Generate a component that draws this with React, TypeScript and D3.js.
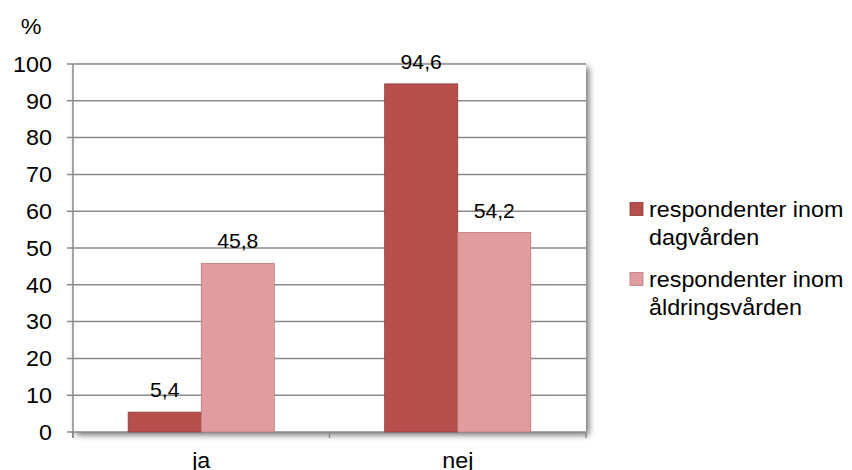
import React from "react";
import * as d3 from "d3";

const categories = ["ja", "nej"];
const seriesNames = ["respondenter inom dagvården", "respondenter inom åldringsvården"];
const legendLines = [["respondenter inom", "dagvården"], ["respondenter inom", "åldringsvården"]];
const dagvarden = [5.4, 94.6];
const aldringsvarden = [45.8, 54.2];
const yTicks = [0, 10, 20, 30, 40, 50, 60, 70, 80, 90, 100];

const colors = ["#B7504D", "#E09C9E"];
const strokes = ["#8E3B39", "#B97A7C"];

const W = 852, H = 470;
const left = 73, right = 586, top = 64, bottom = 432;
const font = "'Liberation Sans', Arial, sans-serif";

// Text drawn slightly wider than the font's natural proportions
function T({ x, y, size, anchor = "start", children }: { x: number; y: number; size: number; anchor?: string; children: React.ReactNode }) {
  return (
    <text transform={`translate(${x},${y}) scale(1.06,1)`} dy="0.35em" textAnchor={anchor} fontSize={size} fill="#000">
      {children}
    </text>
  );
}

export default function App() {
  const x = d3.scaleBand<string>().domain(categories).range([left, right]);
  const y = d3.scaleLinear().domain([0, 100]).range([bottom, top]);
  const bw = x.bandwidth() / (2 + 1.51);
  const series = [dagvarden, aldringsvarden];
  const fmt = (v: number) => v.toFixed(1).replace(".", ",");

  return (
    <svg width={W} height={H} style={{ position: "absolute", left: 0, top: 0, fontFamily: font }}>
      <defs>
        <filter id="shadow" x="-5%" y="-5%" width="115%" height="115%">
          <feGaussianBlur in="SourceAlpha" stdDeviation="3" />
          <feOffset dx="3" dy="3" result="b" />
          <feComponentTransfer><feFuncA type="linear" slope="0.55" /></feComponentTransfer>
        </filter>
      </defs>
      <rect x={left} y={top} width={right - left} height={bottom - top} fill="#000" filter="url(#shadow)" />
      <rect x={left} y={top} width={right - left} height={bottom - top} fill="#fff" />
      {yTicks.map((t) => (
        <g key={t}>
          <line x1={left - 6} x2={right} y1={y(t)} y2={y(t)} stroke="#8A8A8A" strokeWidth={1.5} />
          <T x={52} y={y(t)} size={22} anchor="end">{t}</T>
        </g>
      ))}
      <line x1={left} x2={left} y1={top} y2={bottom + 6} stroke="#8A8A8A" strokeWidth={1.5} />
      {[left, left + x.step(), right].map((px, i) => (
        <line key={i} x1={px} x2={px} y1={bottom} y2={bottom + 6} stroke="#8A8A8A" strokeWidth={1.5} />
      ))}
      <T x={31} y={26} size={22} anchor="middle">%</T>
      {categories.map((c, ci) => {
        const cx = (x(c) as number) + x.bandwidth() / 2;
        return (
          <g key={c}>
            {series.map((s, si) => {
              const bx = cx - bw + si * bw;
              return (
                <g key={si}>
                  <rect x={bx} y={y(s[ci])} width={bw} height={bottom - y(s[ci])} fill={colors[si]} stroke={strokes[si]} strokeWidth={0.8} />
                  <T x={bx + bw / 2} y={y(s[ci]) - 22} size={20} anchor="middle">{fmt(s[ci])}</T>
                </g>
              );
            })}
            <T x={cx} y={460} size={22} anchor="middle">{c}</T>
          </g>
        );
      })}
      {seriesNames.map((n, i) => {
        const ly = i === 0 ? 209 : 279;
        return (
          <g key={n}>
            <rect x={630} y={ly - 6.5} width={13} height={13} fill={colors[i]} stroke={strokes[i]} strokeWidth={0.8} />
            {legendLines[i].map((l, li) => (
              <T key={li} x={649} y={ly + li * 28} size={22}>{l}</T>
            ))}
          </g>
        );
      })}
    </svg>
  );
}
